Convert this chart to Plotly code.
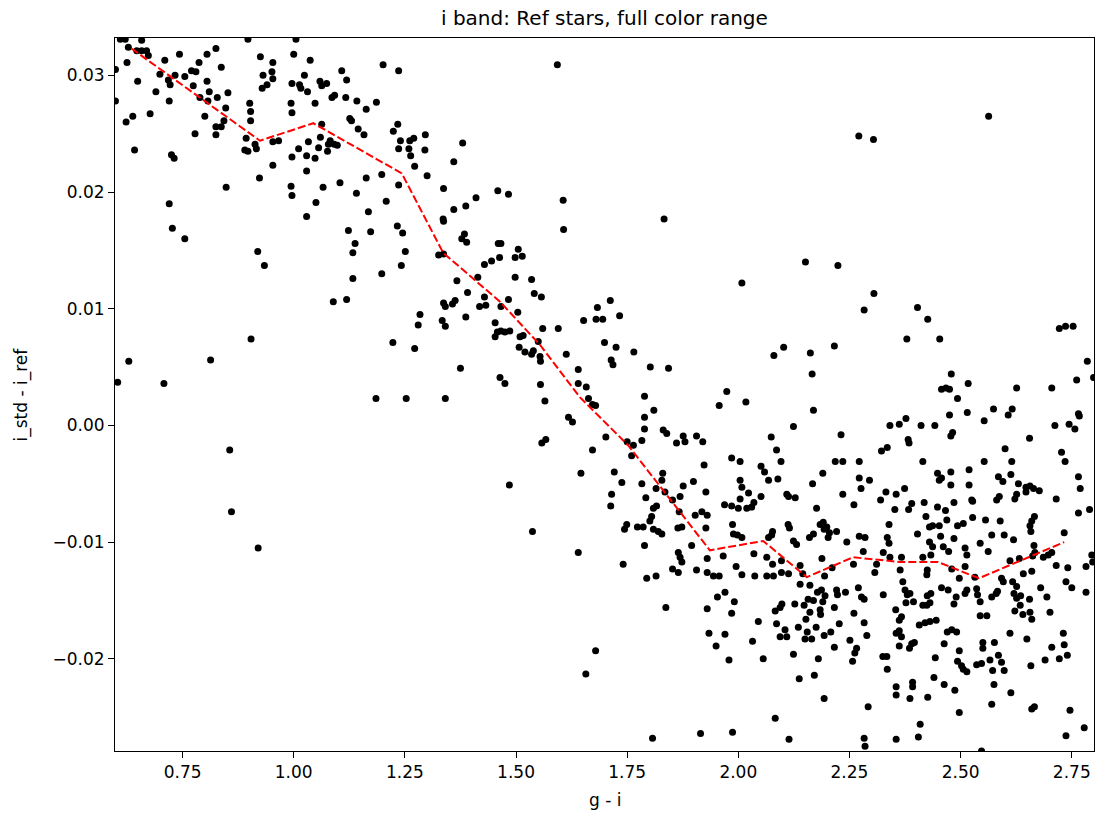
import plotly.graph_objects as go

# g - i colour vs i_std - i_ref offset, grouped by region
pts_upper_left = [
(0.610,0.0331),(0.621,0.0331),(0.658,0.0330),(0.897,0.0331),(1.005,0.0331),(0.628,0.0324),(0.647,0.0321),
(0.658,0.0321),(0.669,0.0321),(0.673,0.0317),(0.625,0.0311),(0.710,0.0313),(0.743,0.0318),(0.805,0.0318),
(0.825,0.0323),(0.599,0.0305),(0.649,0.0295),(0.699,0.0301),(0.718,0.0296),(0.722,0.0292),(0.733,0.0300),
(0.755,0.0299),(0.770,0.0304),(0.780,0.0303),(0.787,0.0311),(0.774,0.0291),(0.789,0.0281),(0.805,0.0295),
(0.810,0.0286),(0.807,0.0278),(0.828,0.0281),(0.852,0.0285),(0.837,0.0307),(0.690,0.0286),(0.720,0.0278),
(0.599,0.0278),(0.638,0.0265),(0.623,0.0260),(0.677,0.0267),(0.847,0.0272),(0.843,0.0261),(0.837,0.0256),
(0.825,0.0256),(0.825,0.0249),(0.800,0.0265),(0.778,0.0250),(0.642,0.0236),(0.725,0.0232),(0.731,0.0229),
(0.720,0.0190),(0.727,0.0169),(0.755,0.0160),(0.848,0.0204),(0.901,0.0276),(0.903,0.0269),(0.903,0.0261),
(0.893,0.0246),(0.890,0.0236),(0.897,0.0235),(0.913,0.0241),(0.916,0.0237),(0.923,0.0212),(0.925,0.0316),
(0.931,0.0300),(0.929,0.0289),(0.940,0.0292),(0.951,0.0303),(0.953,0.0311),(0.953,0.0297),(0.919,0.0149),
(0.934,0.0137),(0.953,0.0223),(0.953,0.0243),(0.966,0.0244),(0.994,0.0276),(0.996,0.0268),(1.000,0.0318),
(0.996,0.0293),(1.013,0.0292),(1.016,0.0289),(1.024,0.0300),(1.031,0.0286),(1.037,0.0313),(1.048,0.0276),
(1.059,0.0295),(1.063,0.0291),(1.074,0.0293),(1.063,0.0258),(1.060,0.0247),(1.033,0.0243),(1.011,0.0237),
(0.996,0.0230),(1.029,0.0231),(1.048,0.0229),(1.056,0.0238),(1.078,0.0241),(1.082,0.0244),(1.091,0.0241),
(1.098,0.0240),(1.076,0.0235),(1.029,0.0218),(0.994,0.0205),(0.996,0.0197),(1.029,0.0179),(1.050,0.0191),
(1.066,0.0204),(1.086,0.0281),(1.092,0.0283),(1.117,0.0281),(1.108,0.0304),(1.119,0.0296),(1.142,0.0278),
(1.163,0.0271),(1.186,0.0277),(1.201,0.0309),(1.236,0.0304),(1.126,0.0263),(1.130,0.0261),(1.145,0.0254),
(1.158,0.0249),(1.104,0.0208),(1.141,0.0199),(1.123,0.0167),(1.138,0.0156),(1.133,0.0148),(1.163,0.0212),
(1.168,0.0183),(1.173,0.0166),(1.198,0.0215),(1.208,0.0192),(1.198,0.0130),(1.133,0.0126),(1.224,0.0252),
(1.234,0.0258),(1.240,0.0244),(1.236,0.0237),(1.261,0.0244),(1.270,0.0246),(1.296,0.0249),(1.259,0.0237),
(1.263,0.0231),(1.272,0.0222),(1.295,0.0236),(1.300,0.0214),(1.236,0.0206),(1.233,0.0171),(1.245,0.0165),
(1.251,0.0149),(1.242,0.0137),(1.337,0.0203),(1.360,0.0185),(1.336,0.0177),(1.337,0.0175),(1.387,0.0188),
(1.410,0.0195),(1.360,0.0226),(1.380,0.0242),(1.384,0.0164),(1.378,0.0160),(1.389,0.0157),(1.326,0.0146),
(1.337,0.0147),(1.367,0.0124),(1.414,0.0127),(1.429,0.0138),(1.445,0.0141),(1.459,0.0201),(1.460,0.0156),
]

pts_diagonal = [
(1.483,0.0198),(1.606,0.0193),(1.607,0.0168),(1.466,0.0156),(1.463,0.0144),(1.498,0.0144),(1.505,0.0151),
(1.514,0.0145),(1.498,0.0127),(1.535,0.0125),(1.541,0.0113),(1.557,0.0110),(1.483,0.0108),(1.504,0.0097),
(1.466,0.0102),(1.453,0.0088),(1.391,0.0114),(1.429,0.0110),(1.418,0.0102),(1.432,0.0103),(1.337,0.0105),
(1.341,0.0102),(1.357,0.0104),(1.363,0.0107),(1.387,0.0093),(1.284,0.0095),(1.280,0.0086),(1.334,0.0090),
(1.341,0.0085),(1.223,0.0071),(1.272,0.0066),(1.375,0.0049),(1.253,0.0023),(1.341,0.0023),(1.464,0.0041),
(1.475,0.0036),(1.453,0.0076),(1.458,0.0080),(1.466,0.0081),(1.475,0.0080),(1.486,0.0081),(1.509,0.0076),
(1.516,0.0077),(1.507,0.0067),(1.520,0.0063),(1.535,0.0061),(1.539,0.0064),(1.550,0.0072),(1.560,0.0083),
(1.554,0.0059),(1.555,0.0055),(1.595,0.0083),(1.613,0.0061),(1.555,0.0035),(1.565,0.0021),(1.640,0.0048),
(1.640,0.0036),(1.658,0.0033),(1.663,0.0023),(1.652,0.0090),(1.680,0.0091),(1.695,0.0091),(1.683,0.0101),
(1.712,0.0107),(1.733,0.0094),(1.699,0.0071),(1.725,0.0067),(1.714,0.0056),(1.718,0.0052),(1.765,0.0063),
]

pts_upper_right = [
(1.593,0.0309),(1.833,0.0177),(2.271,0.0248),(2.304,0.0245),(2.563,0.0265),(2.151,0.0140),(2.224,0.0137),
(1.802,0.0050),(1.843,0.0049),(2.008,0.0122),(2.080,0.0060),(2.102,0.0067),(2.162,0.0062),(2.166,0.0044),
(2.216,0.0068),(2.283,0.0099),(2.305,0.0113),(2.379,0.0074),(2.403,0.0101),(2.426,0.0091),(2.453,0.0074),
(2.479,0.0044),(2.722,0.0083),(2.736,0.0085),(2.753,0.0085),(2.785,0.0055),(2.761,0.0039),(2.799,0.0041),
]

pts_mid_centre = [
(1.789,0.0025),(1.810,0.0013),(1.789,0.0007),(1.789,-0.0003),(1.783,-0.0013),(1.831,-0.0004),(1.839,-0.0007),
(1.702,-0.0010),(1.750,-0.0014),(1.764,-0.0017),(1.760,-0.0026),(1.861,-0.0015),(1.876,-0.0009),(1.880,-0.0014),
(1.906,-0.0009),(1.920,-0.0014),(1.974,0.0029),(1.957,0.0017),(2.017,0.0020),(2.169,0.0013),(2.124,-0.0001),
(2.231,-0.0008),(2.074,-0.0010),(2.086,-0.0021),(2.096,-0.0031),(1.985,-0.0028),(2.004,-0.0031),(1.923,-0.0034),
(1.721,-0.0040),(1.738,-0.0049),(1.715,-0.0059),(1.713,-0.0069),(1.830,-0.0041),(1.828,-0.0047),(1.783,-0.0050),
(1.815,-0.0054),(1.835,-0.0057),(1.792,-0.0062),(1.852,-0.0064),(1.869,-0.0061),(1.876,-0.0052),(1.899,-0.0048),
(1.927,-0.0057),(1.809,-0.0071),(1.816,-0.0069),(1.867,-0.0074),(1.805,-0.0078),(1.801,-0.0082),(1.749,-0.0085),
(1.744,-0.0089),(1.773,-0.0087),(1.786,-0.0087),(1.809,-0.0089),(1.820,-0.0091),(1.828,-0.0093),(1.864,-0.0088),
(1.873,-0.0087),(1.903,-0.0077),(1.918,-0.0074),(1.930,-0.0077),(1.927,-0.0088),(1.895,-0.0103),(1.789,-0.0103),
(1.865,-0.0109),(1.869,-0.0113),(1.873,-0.0117),(1.741,-0.0119),(1.852,-0.0123),(1.865,-0.0126),(1.906,-0.0124),
(1.930,-0.0126),(1.944,-0.0129),(1.957,-0.0129),(1.930,-0.0114),(1.966,-0.0112),(1.987,-0.0085),(1.989,-0.0093),
(1.998,-0.0094),(2.008,-0.0096),(1.995,-0.0121),(2.008,-0.0128),(2.035,-0.0110),(1.969,-0.0068),(1.985,-0.0069),
(2.000,-0.0071),(2.004,-0.0063),(2.004,-0.0047),(2.008,-0.0053),(2.023,-0.0058),(2.035,-0.0066),(2.019,-0.0071),
(2.030,-0.0070),(2.051,-0.0061),(2.051,-0.0035),(2.059,-0.0040),(2.068,-0.0047),(2.089,-0.0046),(2.109,-0.0059),
(2.113,-0.0061),(2.128,-0.0062),(2.167,-0.0050),(2.190,-0.0041),(2.235,-0.0059),(2.176,-0.0071),(2.218,-0.0031),
(2.235,-0.0031),(2.112,-0.0085),(2.115,-0.0088),(2.077,-0.0091),(2.075,-0.0094),(2.068,-0.0096),(2.064,-0.0113),
(2.077,-0.0119),(2.097,-0.0116),(2.124,-0.0099),(2.131,-0.0102),(2.184,-0.0085),(2.191,-0.0083),(2.193,-0.0089),
(2.199,-0.0087),(2.205,-0.0092),(2.202,-0.0096),(2.169,-0.0093),(2.160,-0.0096),(2.221,-0.0091),(2.244,-0.0100),
(2.188,-0.0114),(2.211,-0.0122),(2.139,-0.0120),(2.145,-0.0127),(2.097,-0.0126),(2.113,-0.0127),(2.064,-0.0129),
(2.079,-0.0129),(2.037,-0.0129),
]

pts_mid_right = [
(2.457,0.0031),(2.467,0.0032),(2.475,0.0031),(2.517,0.0036),(2.626,0.0032),(2.705,0.0032),(2.493,0.0023),
(2.515,0.0011),(2.475,0.0009),(2.574,0.0014),(2.616,0.0014),(2.607,0.0009),(2.553,0.0004),(2.377,0.0006),
(2.362,0.0001),(2.341,0.0000),(2.411,0.0000),(2.442,0.0000),(2.482,-0.0006),(2.478,-0.0009),(2.382,-0.0012),
(2.384,-0.0015),(2.335,-0.0019),(2.322,-0.0022),(2.272,-0.0031),(2.415,-0.0031),(2.600,-0.0020),(2.553,-0.0031),
(2.615,-0.0031),(2.655,-0.0011),(2.712,0.0000),(2.744,0.0001),(2.757,-0.0003),(2.765,0.0010),(2.767,0.0008),
(2.727,-0.0023),(2.735,-0.0031),(2.765,-0.0044),(2.769,-0.0054),(2.765,-0.0075),(2.790,-0.0072),(2.272,-0.0045),
(2.295,-0.0047),(2.276,-0.0054),(2.260,-0.0068),(2.332,-0.0057),(2.320,-0.0064),(2.355,-0.0059),(2.374,-0.0054),
(2.448,-0.0041),(2.452,-0.0047),(2.457,-0.0045),(2.478,-0.0040),(2.478,-0.0051),(2.519,-0.0038),(2.519,-0.0051),
(2.525,-0.0064),(2.527,-0.0065),(2.585,-0.0044),(2.595,-0.0048),(2.613,-0.0042),(2.630,-0.0050),(2.647,-0.0053),
(2.656,-0.0052),(2.664,-0.0054),(2.677,-0.0056),(2.626,-0.0059),(2.622,-0.0063),(2.647,-0.0057),(2.581,-0.0064),
(2.587,-0.0061),(2.715,-0.0063),(2.390,-0.0067),(2.383,-0.0072),(2.352,-0.0072),(2.418,-0.0066),(2.448,-0.0070),
(2.466,-0.0073),(2.485,-0.0066),(2.422,-0.0078),(2.469,-0.0081),(2.527,-0.0079),(2.556,-0.0081),(2.589,-0.0082),
(2.666,-0.0078),(2.660,-0.0082),(2.656,-0.0086),(2.658,-0.0091),(2.339,-0.0085),(2.430,-0.0087),(2.437,-0.0086),
(2.452,-0.0086),(2.493,-0.0086),(2.506,-0.0084),(2.403,-0.0093),(2.272,-0.0095),(2.285,-0.0096),(2.335,-0.0096),
(2.339,-0.0101),(2.455,-0.0095),(2.485,-0.0097),(2.570,-0.0094),(2.598,-0.0094),(2.619,-0.0098),(2.733,-0.0092),
(2.430,-0.0100),(2.437,-0.0104),(2.461,-0.0104),(2.473,-0.0108),(2.510,-0.0105),(2.514,-0.0111),(2.544,-0.0101),
(2.562,-0.0108),(2.281,-0.0108),(2.326,-0.0109),(2.341,-0.0113),(2.367,-0.0113),(2.415,-0.0113),(2.433,-0.0111),
(2.259,-0.0119),(2.311,-0.0119),(2.364,-0.0124),(2.307,-0.0126),(2.425,-0.0124),(2.424,-0.0128),(2.480,-0.0123),
(2.510,-0.0121),(2.611,-0.0116),(2.632,-0.0114),(2.665,-0.0103),(2.667,-0.0109),(2.662,-0.0112),(2.686,-0.0113),
(2.697,-0.0111),(2.705,-0.0109),(2.715,-0.0120),(2.741,-0.0122),(2.782,-0.0121),(2.795,-0.0111),(2.797,-0.0117),
(2.641,-0.0127),(2.660,-0.0125),
]

pts_low_centre = [
(1.794,-0.0131),(1.815,-0.0129),(2.139,-0.0136),(2.161,-0.0137),(2.194,-0.0129),(1.837,-0.0156),(1.930,-0.0157),
(1.953,-0.0147),(1.970,-0.0143),(1.991,-0.0151),(1.985,-0.0161),(2.045,-0.0168),(1.934,-0.0178),(1.970,-0.0179),
(1.950,-0.0189),(1.979,-0.0201),(2.032,-0.0185),(2.056,-0.0200),(2.083,-0.0159),(2.098,-0.0153),(2.094,-0.0156),
(2.086,-0.0170),(2.105,-0.0175),(2.094,-0.0181),(2.109,-0.0181),(2.127,-0.0153),(2.135,-0.0173),(2.124,-0.0196),
(2.148,-0.0154),(2.157,-0.0149),(2.161,-0.0160),(2.152,-0.0166),(2.155,-0.0177),(2.150,-0.0183),(2.165,-0.0183),
(2.169,-0.0150),(2.178,-0.0143),(2.187,-0.0141),(2.195,-0.0146),(2.184,-0.0158),(2.185,-0.0162),(2.190,-0.0151),
(2.175,-0.0173),(2.193,-0.0180),(2.208,-0.0177),(2.216,-0.0156),(2.221,-0.0141),(2.223,-0.0145),(2.241,-0.0143),
(2.227,-0.0170),(2.216,-0.0190),(2.180,-0.0200),(2.171,-0.0214),(2.137,-0.0217),(2.193,-0.0234),(2.083,-0.0251),
(1.807,-0.0268),(1.915,-0.0264),(1.987,-0.0263),(2.114,-0.0269),
]

pts_low_right = [
(2.497,-0.0131),(2.514,-0.0141),(2.510,-0.0144),(2.532,-0.0130),(2.536,-0.0140),(2.538,-0.0145),(2.544,-0.0151),
(2.270,-0.0139),(2.277,-0.0147),(2.283,-0.0149),(2.260,-0.0161),(2.283,-0.0169),(2.289,-0.0180),(2.251,-0.0184),
(2.266,-0.0191),(2.262,-0.0195),(2.257,-0.0202),(2.326,-0.0145),(2.370,-0.0134),(2.375,-0.0141),(2.380,-0.0145),
(2.386,-0.0144),(2.377,-0.0152),(2.394,-0.0151),(2.354,-0.0158),(2.367,-0.0164),(2.362,-0.0167),(2.355,-0.0178),
(2.362,-0.0176),(2.367,-0.0181),(2.362,-0.0189),(2.390,-0.0187),(2.396,-0.0186),(2.385,-0.0191),(2.325,-0.0198),
(2.334,-0.0198),(2.335,-0.0209),(2.355,-0.0224),(2.355,-0.0231),(2.392,-0.0220),(2.392,-0.0224),(2.386,-0.0234),
(2.426,-0.0233),(2.292,-0.0241),(2.283,-0.0268),(2.285,-0.0275),(2.355,-0.0269),(2.405,-0.0267),(2.409,-0.0256),
(2.415,-0.0154),(2.424,-0.0154),(2.431,-0.0152),(2.425,-0.0146),(2.433,-0.0144),(2.407,-0.0171),(2.420,-0.0169),
(2.431,-0.0168),(2.445,-0.0167),(2.457,-0.0139),(2.472,-0.0141),(2.490,-0.0147),(2.485,-0.0153),(2.470,-0.0177),
(2.480,-0.0175),(2.491,-0.0177),(2.463,-0.0187),(2.497,-0.0193),(2.443,-0.0199),(2.493,-0.0202),(2.502,-0.0206),
(2.506,-0.0209),(2.514,-0.0211),(2.440,-0.0216),(2.463,-0.0222),(2.487,-0.0227),(2.497,-0.0246),(2.547,-0.0279),
(2.544,-0.0163),(2.559,-0.0163),(2.536,-0.0205),(2.547,-0.0204),(2.550,-0.0186),(2.550,-0.0191),(2.576,-0.0186),
(2.566,-0.0201),(2.572,-0.0210),(2.585,-0.0197),(2.592,-0.0203),(2.598,-0.0210),(2.575,-0.0222),(2.613,-0.0229),
(2.570,-0.0239),(2.570,-0.0147),(2.580,-0.0144),(2.583,-0.0142),(2.592,-0.0131),(2.596,-0.0134),(2.617,-0.0134),
(2.626,-0.0138),(2.620,-0.0144),(2.635,-0.0146),(2.626,-0.0148),(2.634,-0.0154),(2.622,-0.0159),(2.640,-0.0162),
(2.655,-0.0149),(2.656,-0.0160),(2.660,-0.0166),(2.680,-0.0139),(2.694,-0.0147),(2.701,-0.0160),(2.611,-0.0178),
(2.649,-0.0183),(2.705,-0.0190),(2.690,-0.0201),(2.722,-0.0200),(2.733,-0.0188),(2.731,-0.0178),(2.740,-0.0197),
(2.658,-0.0206),(2.660,-0.0243),(2.666,-0.0241),(2.746,-0.0244),(2.737,-0.0266),(2.778,-0.0259),(2.737,-0.0134),
(2.750,-0.0139),(2.782,-0.0143),
]

pts_outliers = [
(1.089,0.0106),(1.119,0.0108),(0.904,0.0074),(0.629,0.0055),(0.604,0.0037),(0.708,0.0036),(0.813,0.0056),
(0.856,-0.0021),(0.860,-0.0074),(1.185,0.0023),(1.618,0.0007),(1.627,0.0003),(1.558,-0.0015),(1.567,-0.0012),
(1.672,-0.0021),(1.646,-0.0041),(1.485,-0.0051),(1.672,0.0018),(1.679,0.0017),(1.537,-0.0091),(1.640,-0.0109),
(1.679,-0.0193),(1.657,-0.0213),(0.920,-0.0105),
]

# binned trend (red dashed line)
trend_gi = [0.635, 0.924, 1.044, 1.243, 1.336, 1.464, 1.554, 1.644, 1.752, 1.936, 2.056, 2.154, 2.258, 2.364, 2.449, 2.541, 2.733]
trend_off = [0.0323, 0.0244, 0.0259, 0.0216, 0.0148, 0.0106, 0.0069, 0.0024, -0.0017, -0.0107, -0.0099, -0.0130,
             -0.0113, -0.0117, -0.0117, -0.0131, -0.0100]

x_ticks = [0.75, 1.00, 1.25, 1.50, 1.75, 2.00, 2.25, 2.50, 2.75]
y_ticks = [-0.02, -0.01, 0.00, 0.01, 0.02, 0.03]

all_pts = (pts_upper_left + pts_diagonal + pts_upper_right + pts_mid_centre + pts_mid_right
           + pts_low_centre + pts_low_right + pts_outliers)
gi = [p[0] for p in all_pts]
off = [p[1] for p in all_pts]

FONT = "DejaVu Sans"

fig = go.Figure()
fig.add_trace(go.Scatter(x=gi, y=off, mode="markers",
                         marker=dict(color="black", size=7, line=dict(width=0)),
                         cliponaxis=True, showlegend=False))
fig.add_trace(go.Scatter(x=trend_gi, y=trend_off, mode="lines",
                         line=dict(color="red", width=2, dash="8px,3px"),
                         showlegend=False))

def fmt(v):
    s = f"{abs(v):.2f}"
    return ("\u2212" + s) if v < 0 else s

axis_common = dict(showgrid=False, zeroline=False, showline=True, linecolor="black", linewidth=1,
                   mirror=True, ticks="outside", ticklen=6, tickwidth=1, tickcolor="black",
                   tickfont=dict(family=FONT, size=17, color="black"))

fig.update_layout(
    width=1097, height=817,
    margin=dict(l=115, r=3, t=38, b=66),
    plot_bgcolor="white", paper_bgcolor="white",
    xaxis=dict(range=[0.598, 2.800], tickvals=x_ticks, ticktext=[fmt(v) for v in x_ticks], **axis_common),
    yaxis=dict(range=[-0.0279, 0.0332], tickvals=y_ticks, ticktext=[fmt(v) for v in y_ticks], **axis_common),
    annotations=[
        dict(text="i band: Ref stars, full color range", xref="paper", yref="paper", x=0.5, y=1.028,
             xanchor="center", yanchor="middle", showarrow=False, font=dict(family=FONT, size=20, color="black")),
        dict(text="g - i", xref="paper", yref="paper", x=0.5, y=-0.0687,
             xanchor="center", yanchor="middle", showarrow=False, font=dict(family=FONT, size=17, color="black")),
        dict(text="i_std - i_ref", xref="paper", yref="paper", x=-0.095, y=0.5, textangle=-90,
             xanchor="center", yanchor="middle", showarrow=False, font=dict(family=FONT, size=17, color="black")),
    ],
)

fig.write_html("out.html")
